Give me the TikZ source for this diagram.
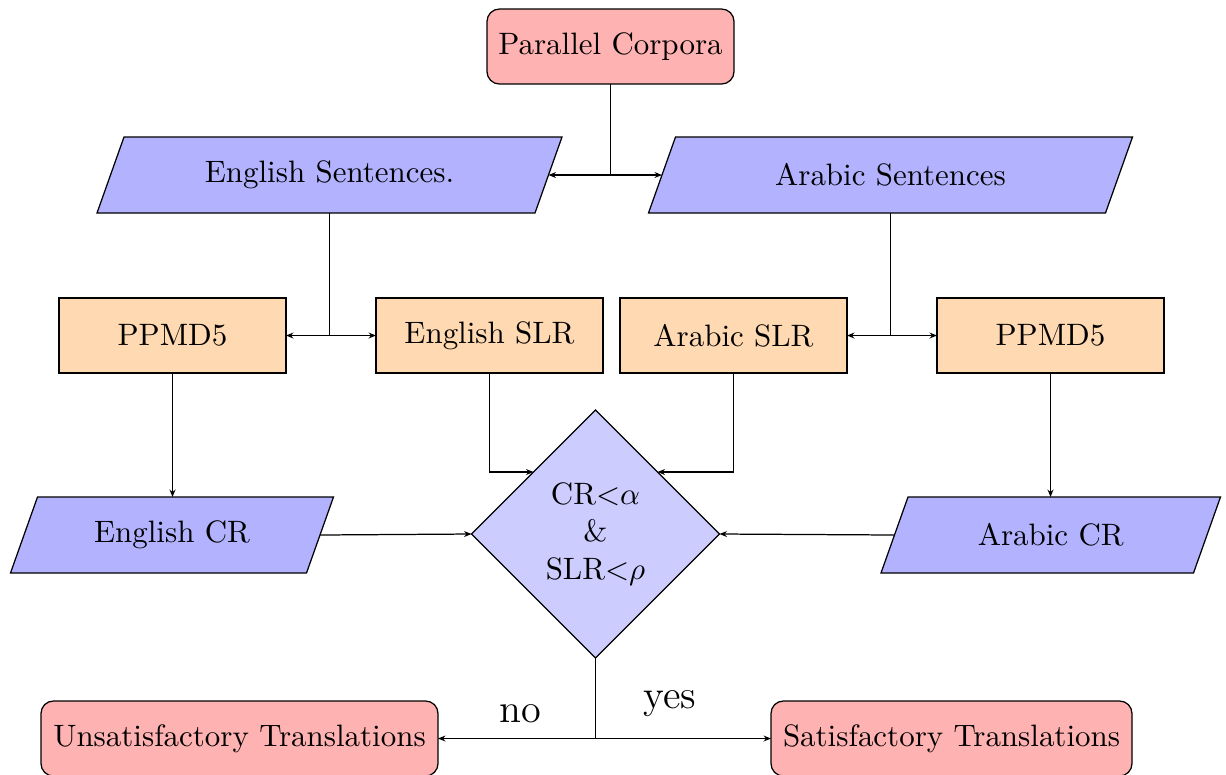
\documentclass[tikz,border=0pt]{standalone}
\usetikzlibrary{shapes.geometric,arrows.meta,calc}
\pgfdeclarelayer{bg}
\pgfsetlayers{bg,main}
\begin{document}
\begin{tikzpicture}[x=0.323pt, y=-0.323pt,
  every node/.style={outer sep=0pt, inner sep=2pt, font=\normalsize},
  startstop/.style={rectangle, rounded corners=4pt, draw=black, fill=red!30,
    minimum height=24.23pt},
  process/.style={rectangle, draw=black, fill=orange!30,
    minimum width=73.32pt, minimum height=24.23pt},
  iobox/.style={rectangle, minimum height=24.55pt},
  iofill/.style={draw=black, fill=blue!30},
  decision/.style={diamond, draw=black, fill=blue!20,
    minimum width=80.1pt, minimum height=80.1pt, inner sep=0pt, align=center},
  arr/.style={-{Stealth[length=2.4pt,width=1.9pt]}},
  biglabel/.style={font=\fontsize{13}{15}\selectfont}
]
\useasboundingbox (0,0) rectangle (1226,774);

% nodes
\node[startstop, minimum width=79.78pt] (pc) at (610.5,46.5) {Parallel Corpora};

\node[iobox, minimum width=141.47pt] (es) at (329.5,175) {English Sentences.};
\node[iobox, minimum width=147.61pt] (as) at (890.5,175) {Arabic Sentences};

\node[process] (p1)  at (172.5,335.5)  {PPMD5};
\node[process] (esl) at (489.5,335.5)  {English SLR};
\node[process] (asl) at (733.5,335.5)  {Arabic SLR};
\node[process] (p2)  at (1050.5,335.5) {PPMD5};

\node[iobox, minimum width=95.61pt]  (ecr) at (172,535)     {English CR};
\node[iobox, minimum width=100.94pt] (acr) at (1050.75,535) {Arabic CR};

\node[decision] (d) at (595.5,534) {CR$<$$\alpha$\\\&\\SLR$<$$\rho$};

\node[startstop, minimum width=128.23pt] (uns) at (239.5,738.5) {Unsatisfactory Translations};
\node[startstop, minimum width=116.6pt]  (sat) at (951.5,738.5) {Satisfactory Translations};

\node[biglabel] (no)  at (520,714) {no};
\node[biglabel] (yes) at (670,704) {yes};

% parallelogram bodies behind the input/output texts
\newcommand\ioshape[1]{%
  \draw[iofill] ($(#1.north west)+(13.5,0)$) -- ($(#1.north east)+(13.5,0)$)
    -- ($(#1.south east)+(-13.5,0)$) -- ($(#1.south west)+(-13.5,0)$) -- cycle;}
\begin{pgfonlayer}{bg}
  \ioshape{es}
  \ioshape{as}
  \ioshape{ecr}
  \ioshape{acr}
\end{pgfonlayer}

% connectors
\draw (pc.south) -- (pc.south |- es.east) coordinate (j1);
\draw[arr] (j1) -- (es.east);
\draw[arr] (j1) -- (as.west);

\draw (es.south) -- (es.south |- p1.east) coordinate (j2);
\draw[arr] (j2) -- (p1.east);
\draw[arr] (j2) -- (esl.west);

\draw (as.south) -- (as.south |- asl.east) coordinate (j3);
\draw[arr] (j3) -- (asl.east);
\draw[arr] (j3) -- (p2.west);

\draw[arr] (p1.south) -- (p1.south |- ecr.north);
\draw[arr] (p2.south) -- (p2.south |- acr.north);

\draw[arr] (esl.south) |- (d.north west);
\draw[arr] (asl.south) |- (d.north east);

\draw[arr] (ecr.east) -- (d.west);
\draw[arr] (acr.west) -- (d.east);

\draw (d.south) -- (d.south |- uns.east) coordinate (j4);
\draw[arr] (j4) -- (uns.east);
\draw[arr] (j4) -- (sat.west);
\end{tikzpicture}
\end{document}
